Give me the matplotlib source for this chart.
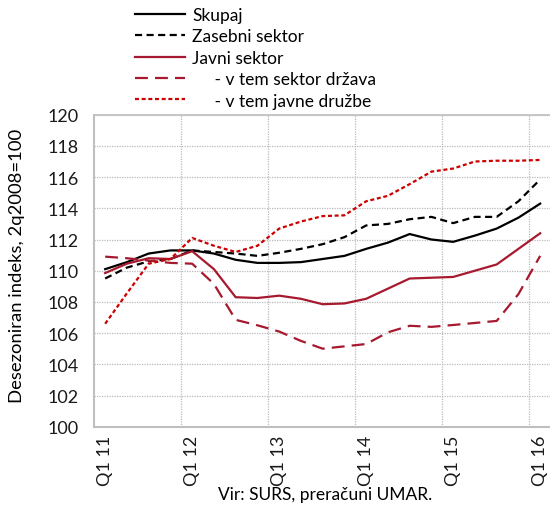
import numpy as np
import matplotlib
matplotlib.use("Agg")
import matplotlib.pyplot as plt

plt.rcParams['font.family'] = ['Lato', 'DejaVu Sans']

# quarters Q1 2011 .. Q1 2016
quarters = ['Q1 11', 'Q2 11', 'Q3 11', 'Q4 11',
            'Q1 12', 'Q2 12', 'Q3 12', 'Q4 12',
            'Q1 13', 'Q2 13', 'Q3 13', 'Q4 13',
            'Q1 14', 'Q2 14', 'Q3 14', 'Q4 14',
            'Q1 15', 'Q2 15', 'Q3 15', 'Q4 15',
            'Q1 16']

skupaj = [110.1, 110.55, 111.1, 111.3, 111.3, 111.1, 110.7, 110.5,
          110.5, 110.55, 110.75, 110.95, 111.4, 111.8, 112.35, 112.0,
          111.85, 112.25, 112.7, 113.4, 114.3]
zasebni = [109.5, 110.2, 110.6, 110.75, 111.3, 111.2, 111.1, 110.95,
           111.15, 111.4, 111.7, 112.15, 112.9, 113.0, 113.3, 113.45,
           113.05, 113.45, 113.45, 114.45, 115.85]
javni = [109.85, 110.45, 110.8, 110.75, 111.25, 110.1, 108.3, 108.25,
         108.4, 108.2, 107.85, 107.9, 108.2, 108.85, 109.5, 109.55,
         109.6, 110.0, 110.4, 111.4, 112.4]
drzava = [110.9, 110.8, 110.65, 110.5, 110.45, 109.15, 106.85, 106.5,
          106.1, 105.5, 105.0, 105.15, 105.3, 106.05, 106.47, 106.4,
          106.52, 106.65, 106.78, 108.5, 110.95]
druzbe = [106.6, 108.55, 110.45, 110.75, 112.1, 111.6, 111.2, 111.6,
          112.7, 113.15, 113.5, 113.55, 114.45, 114.8, 115.55, 116.35,
          116.55, 117.0, 117.05, 117.05, 117.1]

dark_red = '#A6192E'
bright_red = '#CC0000'

fig = plt.figure(figsize=(5.5, 5.1), dpi=100)
ax = fig.add_axes([94.3 / 550, 1 - 427.7 / 510, 456.75 / 550, 312 / 510])

x = np.arange(len(quarters))
lw = 1.6
l1, = ax.plot(x, skupaj, color='black', lw=lw, label='Skupaj')
l2, = ax.plot(x, zasebni, color='black', lw=lw, dashes=(3.2, 2.0),
              label='Zasebni sektor')
l3, = ax.plot(x, javni, color=dark_red, lw=lw, label='Javni sektor')
l4, = ax.plot(x, drzava, color=dark_red, lw=lw, dashes=(5.8, 3.2),
              label='     - v tem sektor država')
l5, = ax.plot(x, druzbe, color=bright_red, lw=lw, dashes=(1.8, 1.2),
              label='     - v tem javne družbe')

ax.set_xlim(-0.5, len(quarters) - 0.5)
ax.set_ylim(100, 120)
ax.set_yticks(np.arange(100, 121, 2))
ax.set_xticks(x[::4])
ax.set_xticklabels(quarters[::4], rotation=90)
ax.set_xticks(np.arange(3.5, len(quarters) - 1, 4), minor=True)
ax.tick_params(axis='both', which='both', length=0, labelsize=13,
               colors='#1a1a1a')
ax.tick_params(axis='y', pad=11.5)
ax.tick_params(axis='x', pad=6)

ax.grid(axis='y', which='major', color='#BBBBBB', linestyle=(0, (1, 1)), lw=0.9)
ax.grid(axis='x', which='minor', color='#BBBBBB', linestyle=(0, (1, 1)), lw=0.9)
ax.grid(axis='x', which='major', visible=False)

for side in ['left', 'bottom', 'top']:
    ax.spines[side].set_color('#BFBFBF')
    ax.spines[side].set_linewidth(1.5)
ax.spines['top'].set_linewidth(1.2)
ax.spines['right'].set_visible(False)

ax.set_ylabel('Desezoniran indeks, 2q2008=100', fontsize=13.3)
ax.yaxis.set_label_coords((25 - 94.3) / 456.75, 0.52)
fig.text(325 / 550, 1 - 495 / 510, 'Vir: SURS, preračuni UMAR.',
         ha='center', va='center', fontsize=12.5)

fig.legend(handles=[l1, l2, l3, l4, l5], loc='upper left',
           bbox_to_anchor=(135 / 550, 1 - 8 / 510), frameon=False,
           fontsize=12.5, handlelength=2.9, handletextpad=0.4,
           labelspacing=0.31, borderpad=0, borderaxespad=0)

fig.savefig('out.png', dpi=100)
